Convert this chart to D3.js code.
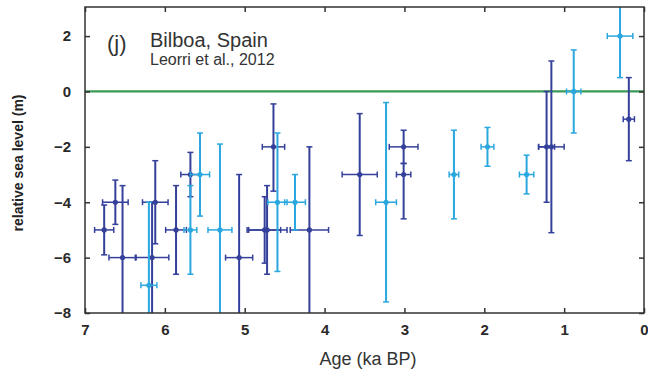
<!DOCTYPE html>
<html>
<head>
<meta charset="utf-8">
<script src="https://cdn.jsdelivr.net/npm/d3@7"></script>
<style>
  body { margin: 0; background: #fff; }
  text { font-family: "Liberation Sans", Arial, sans-serif; }
</style>
</head>
<body>
<svg width="648" height="376"></svg>
<script>
// dark blue series
const darkAge = [6.76, 6.62, 6.53, 6.16, 6.12, 5.86, 5.68, 5.07, 4.75, 4.72, 4.64, 4.19, 3.56, 3.01, 3.01, 1.22, 1.16, 0.19];
const darkRsl = [-5, -4, -6, -6, -4, -5, -3, -6, -5, -5, -2, -5, -3, -2, -3, -2, -2, -1];
const darkAgeErr = [0.12, 0.16, 0.17, 0.21, 0.16, 0.13, 0.12, 0.17, 0.2, 0.25, 0.14, 0.24, 0.22, 0.18, 0.09, 0.1, 0.16, 0.07];
const darkRslTop = [-4.1, -3.2, -3.4, -4, -2.5, -3.4, -2.2, -3, -3.8, -3.4, -0.45, -2, -0.8, -1.4, -2.6, 0, 1.1, 0.5];
const darkRslBottom = [-5.9, -4.8, -8.5, -8.5, -5.5, -6.6, -3.8, -8.5, -6.2, -6.6, -3.6, -8.5, -5.2, -2.6, -4.6, -4, -5.1, -2.5];

// light blue series
const lightAge = [6.2, 5.68, 5.56, 5.31, 4.59, 4.37, 3.23, 2.38, 1.96, 1.47, 0.88, 0.3];
const lightRsl = [-7, -5, -3, -5, -4, -4, -4, -3, -2, -3, 0, 2];
const lightAgeErr = [0.1, 0.08, 0.12, 0.15, 0.12, 0.13, 0.13, 0.06, 0.08, 0.09, 0.09, 0.16];
const lightRslTop = [-4, -3.4, -1.5, -1.9, -1.5, -3, -0.4, -1.4, -1.3, -2.3, 1.5, 3.2];
const lightRslBottom = [-8.5, -6.6, -4.5, -8.5, -6.5, -5, -7.6, -4.6, -2.7, -3.7, -1.5, 0.5];

const xTicks = [7, 6, 5, 4, 3, 2, 1, 0];
const yTicks = [2, 0, -2, -4, -6, -8];

const svg = d3.select('svg');
const margin = { top: 7, right: 4, bottom: 63, left: 85 };
const width = 648 - margin.left - margin.right;
const height = 376 - margin.top - margin.bottom;

const x = d3.scaleLinear().domain([7, 0]).range([0, width]);
const y = d3.scaleLinear().domain([-8, 3.05]).range([height, 0]);

const g = svg.append('g').attr('transform', `translate(${margin.left},${margin.top})`);

svg.append('defs').append('clipPath').attr('id', 'clip')
  .append('rect').attr('width', width).attr('height', height);

// zero line
g.append('line')
  .attr('x1', 0).attr('x2', width)
  .attr('y1', y(0)).attr('y2', y(0))
  .attr('stroke', '#3a9a55').attr('stroke-width', 2.2);

const makeRows = (age, rsl, err, top, bottom) =>
  age.map((a, i) => ({ age: a, rsl: rsl[i], err: err[i], top: top[i], bottom: bottom[i] }));

const drawSeries = (rows, color) => {
  const s = g.append('g').attr('clip-path', 'url(#clip)')
    .attr('stroke', color).attr('fill', color);
  const cap = 3;
  rows.forEach(d => {
    const cx = x(d.age), cy = y(d.rsl);
    // vertical error
    s.append('line').attr('x1', cx).attr('x2', cx)
      .attr('y1', y(d.top)).attr('y2', y(d.bottom)).attr('stroke-width', 2);
    s.append('line').attr('x1', cx - cap).attr('x2', cx + cap)
      .attr('y1', y(d.top)).attr('y2', y(d.top)).attr('stroke-width', 1.5);
    s.append('line').attr('x1', cx - cap).attr('x2', cx + cap)
      .attr('y1', y(d.bottom)).attr('y2', y(d.bottom)).attr('stroke-width', 1.5);
    // horizontal error
    const x0 = x(d.age + d.err), x1 = x(d.age - d.err);
    s.append('line').attr('x1', x0).attr('x2', x1)
      .attr('y1', cy).attr('y2', cy).attr('stroke-width', 1.5);
    s.append('line').attr('x1', x0).attr('x2', x0)
      .attr('y1', cy - cap).attr('y2', cy + cap).attr('stroke-width', 1.5);
    s.append('line').attr('x1', x1).attr('x2', x1)
      .attr('y1', cy - cap).attr('y2', cy + cap).attr('stroke-width', 1.5);
    s.append('circle').attr('cx', cx).attr('cy', cy).attr('r', 2.6).attr('stroke', 'none');
  });
};

drawSeries(makeRows(darkAge, darkRsl, darkAgeErr, darkRslTop, darkRslBottom), '#34409a');
drawSeries(makeRows(lightAge, lightRsl, lightAgeErr, lightRslTop, lightRslBottom), '#2aa7df');

// axes with inward ticks
const tickStyle = sel => {
  sel.select('.domain').remove();
  sel.selectAll('.tick line').attr('stroke', '#333').attr('stroke-width', 1.5);
};
g.append('g').attr('transform', `translate(0,${height})`)
  .call(d3.axisBottom(x).tickValues(xTicks).tickSize(-5).tickPadding(11).tickFormat(d3.format('d')))
  .call(tickStyle)
  .selectAll('text').attr('font-size', 15).attr('font-weight', 'bold').attr('fill', '#2a2a2a');
g.append('g')
  .call(d3.axisTop(x).tickValues(xTicks).tickSize(-5).tickFormat(''))
  .call(tickStyle);
g.append('g')
  .call(d3.axisLeft(y).tickValues(yTicks).tickSize(-5).tickPadding(14).tickFormat(d3.format('d')))
  .call(tickStyle)
  .selectAll('text').attr('font-size', 15).attr('font-weight', 'bold').attr('fill', '#2a2a2a');
g.append('g').attr('transform', `translate(${width},0)`)
  .call(d3.axisRight(y).tickValues(yTicks).tickSize(-5).tickFormat(''))
  .call(tickStyle);

// frame
g.append('rect').attr('width', width).attr('height', height)
  .attr('fill', 'none').attr('stroke', '#333').attr('stroke-width', 1.5);

// labels
g.append('text').attr('x', 22).attr('y', 44)
  .attr('font-size', 22).attr('fill', '#333').text('(j)');
g.append('text').attr('x', 65).attr('y', 40)
  .attr('font-size', 20).attr('fill', '#333').text('Bilboa, Spain');
g.append('text').attr('x', 65).attr('y', 58)
  .attr('font-size', 16).attr('fill', '#333').text('Leorri et al., 2012');

svg.append('text')
  .attr('transform', 'translate(368,365)')
  .attr('text-anchor', 'middle').attr('font-size', 18).attr('fill', '#333')
  .text('Age (ka BP)');
svg.append('text')
  .attr('transform', 'translate(23,163) rotate(-90)')
  .attr('text-anchor', 'middle').attr('font-size', 14).attr('font-weight', 'bold')
  .attr('fill', '#222').text('relative sea level (m)');
</script>
</body>
</html>
